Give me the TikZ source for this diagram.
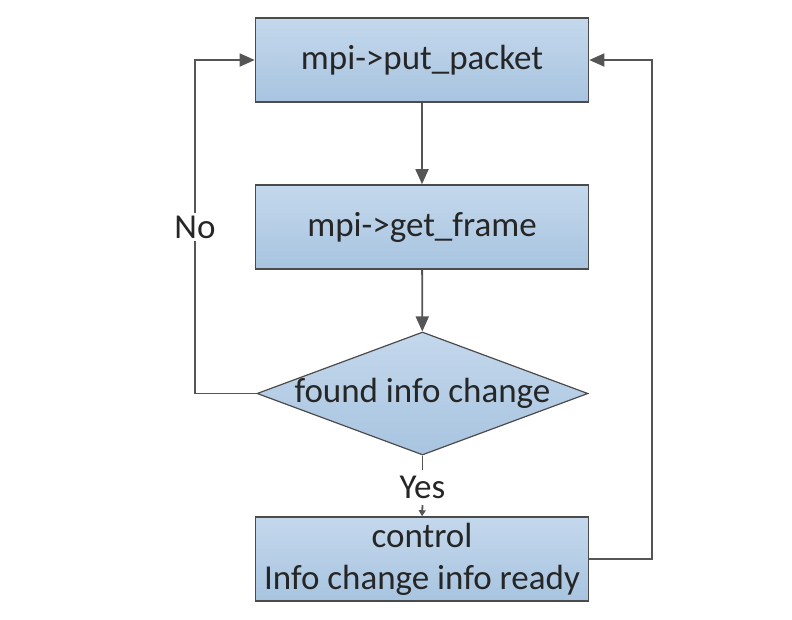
\documentclass[tikz,border=0pt]{standalone}
\usepackage{fontspec}
\setmainfont{Carlito}
\usetikzlibrary{shapes.geometric,arrows.meta}
\definecolor{edge}{RGB}{75,75,75}
\definecolor{wire}{RGB}{85,85,85}
\definecolor{filltop}{RGB}{196,216,236}
\definecolor{fillbot}{RGB}{168,196,224}
\tikzset{
  procbox/.style={draw=edge, line width=1.6pt, top color=filltop, bottom color=fillbot,
    minimum width=333pt, minimum height=84pt, inner sep=0pt, align=center,
    font=\fontsize{35}{42}\selectfont, text=black!85},
  decide/.style={draw=edge, line width=1.2pt, diamond, aspect=2.7, top color=filltop, bottom color=fillbot,
    minimum width=331pt, minimum height=123pt, inner sep=0pt},
  txt/.style={font=\fontsize{35}{42}\selectfont, text=black!85, inner sep=2pt},
  wireline/.style={draw=wire, line width=1.8pt},
  bigtip/.style={-{Triangle[length=15pt,width=13pt]}},
  smalltip/.style={-{Triangle[length=6pt,width=7pt]}},
  lbl/.style={txt, fill=white}
}
\begin{document}
\begin{tikzpicture}[x=1pt,y=-1pt]
\useasboundingbox (0,0) rectangle (792,619);
\node[procbox] (put) at (422,60) {mpi->put\_packet};
\node[procbox] (get) at (422,227) {mpi->get\_frame};
\node[decide] (chg) at (422.5,393.5) {};
\node[txt] (chgtext) at (chg.center) {found info change};
\node[procbox] (ctl) at (422,559) {control\\Info change info ready};
\coordinate (yesend) at (422.5,470);
\node[txt] (yes) at (422.5,487) {Yes};
\coordinate (lt) at (195,60);
\coordinate (lb) at (195,393.5);
\coordinate (rt) at (652,60);
\coordinate (rb) at (652,559);
\node[lbl] (no) at (195,227) {No};
\draw[wireline, bigtip] (put) -- (get);
\draw[wireline, bigtip] (get) -- (chg);
\draw[wireline] (chg.south) -- (yesend);
\draw[wireline, smalltip] (422.5,505) -- (ctl.north);
\draw[wireline] (chg.west) -- (lb) -- (no.south);
\draw[wireline, bigtip] (no.north) -- (lt) -- (put.west);
\draw[wireline, bigtip] (ctl.east) -- (rb) -- (rt) -- (put.east);
\end{tikzpicture}
\end{document}
